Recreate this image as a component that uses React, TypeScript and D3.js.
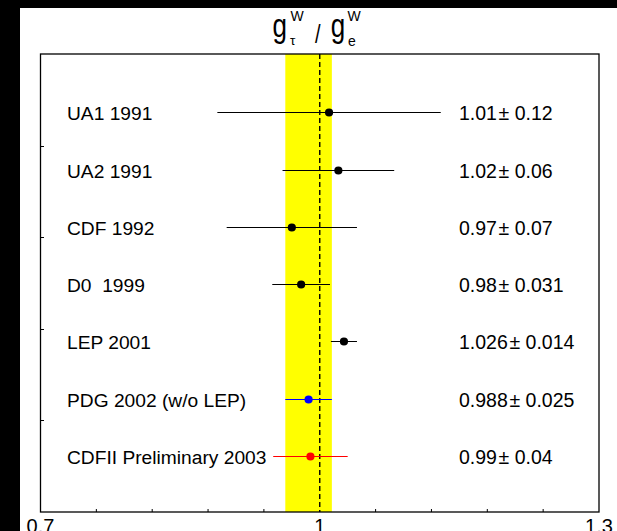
import React from "react";
import * as d3 from "d3";

// measurements, top to bottom
const experiments = [
  "UA1 1991",
  "UA2 1991",
  "CDF 1992",
  "D0  1999",
  "LEP 2001",
  "PDG 2002 (w/o LEP)",
  "CDFII Preliminary 2003",
];
const centralValues = [1.01, 1.02, 0.97, 0.98, 1.026, 0.988, 0.99];
const errors = [0.12, 0.06, 0.07, 0.031, 0.014, 0.025, 0.04];
const valueLabels = [
  "1.01\u200a± 0.12",
  "1.02\u200a± 0.06",
  "0.97\u200a± 0.07",
  "0.98\u200a± 0.031",
  "1.026\u200a± 0.014",
  "0.988\u200a± 0.025",
  "0.99\u200a± 0.04",
];
const markerColors = ["#000", "#000", "#000", "#000", "#000", "#0000ff", "#ff0000"];

// reference band (PDG 2002 value) and the SM expectation
const bandRange = [0.963, 1.013];
const smValue = 1;

const xLabelTicks = [0.7, 1, 1.3];
const xMinorTicks = [0.76, 0.82, 0.88, 0.94, 1.06, 1.12, 1.18, 1.24];
const yTicks = [1.6, 3.2, 4.8, 6.4];

const W = 617,
  H = 531;
const frame = { left: 40.5, right: 599, top: 54, bottom: 512 };
const FONT = "'Liberation Sans', Arial, sans-serif";

export default function App() {
  const x = d3.scaleLinear().domain([0.7, 1.3]).range([frame.left, frame.right]);
  const y = d3.scaleLinear().domain([0, 8]).range([frame.bottom, frame.top]);
  const rowY = (i: number) => Math.round(y(experiments.length - i)) + 1.5;

  return (
    <div style={{ position: "fixed", left: 0, top: 0 }}>
      <svg width={W} height={H} style={{ display: "block" }} fontFamily={FONT}>
        <rect width={W} height={H} fill="#000" />
        <rect x={20} y={8} width={W - 20} height={H - 8} fill="#fff" />

        {/* title g_tau^W / g_e^W */}
        <g fill="#000">
          <text transform="translate(272.5,37) scale(1,1.25)" fontSize={26}>g</text>
          <text x={290.5} y={20.5} fontSize={14}>W</text>
          <text x={290} y={44.5} fontSize={13.5}>τ</text>
          <text transform="translate(315,43) scale(1,1.25)" fontSize={20}>/</text>
          <text transform="translate(330.7,37) scale(1,1.25)" fontSize={26}>g</text>
          <text x={347.5} y={20.5} fontSize={14}>W</text>
          <text x={348} y={46} fontSize={14}>e</text>
        </g>

        {/* reference band */}
        <rect
          x={x(bandRange[0])}
          y={frame.top}
          width={x(bandRange[1]) - x(bandRange[0])}
          height={frame.bottom - frame.top}
          fill="#ffff00"
        />
        <line
          x1={x(smValue)}
          x2={x(smValue)}
          y1={frame.top}
          y2={frame.bottom}
          stroke="#000"
          strokeWidth={1.4}
          strokeDasharray="5,3"
        />

        {/* error bars and points */}
        {experiments.map((name, i) => (
          <g key={name}>
            <line
              x1={x(centralValues[i] - errors[i])}
              x2={x(centralValues[i] + errors[i])}
              y1={rowY(i)}
              y2={rowY(i)}
              stroke={markerColors[i]}
              strokeWidth={1}
            />
            <circle cx={x(centralValues[i])} cy={rowY(i)} r={4.1} fill={markerColors[i]} />
            <text
              x={frame.left + 26.5}
              y={rowY(i)}
              dy="0.37em"
              fontSize={19.2}
              style={{ whiteSpace: "pre" }}
            >
              {name}
            </text>
            <text x={459} y={rowY(i)} dy="0.37em" fontSize={19.5}>
              {valueLabels[i]}
            </text>
          </g>
        ))}

        {/* frame */}
        <rect
          x={frame.left}
          y={frame.top}
          width={frame.right - frame.left}
          height={frame.bottom - frame.top}
          fill="none"
          stroke="#000"
          strokeWidth={1.3}
        />

        {/* x axis ticks and labels */}
        {xMinorTicks.map((t) => (
          <line key={t} x1={x(t)} x2={x(t)} y1={frame.bottom} y2={frame.bottom - 3} stroke="#000" />
        ))}
        {xLabelTicks.map((t) => (
          <text key={t} x={x(t)} y={532.5} fontSize={20} textAnchor="middle">
            {d3.format("~g")(t)}
          </text>
        ))}

        {/* y axis ticks */}
        {yTicks.map((t) => (
          <line
            key={t}
            x1={frame.left}
            x2={frame.left + 3.5}
            y1={Math.round(y(t)) + 0.5}
            y2={Math.round(y(t)) + 0.5}
            stroke="#000"
          />
        ))}
      </svg>
    </div>
  );
}
